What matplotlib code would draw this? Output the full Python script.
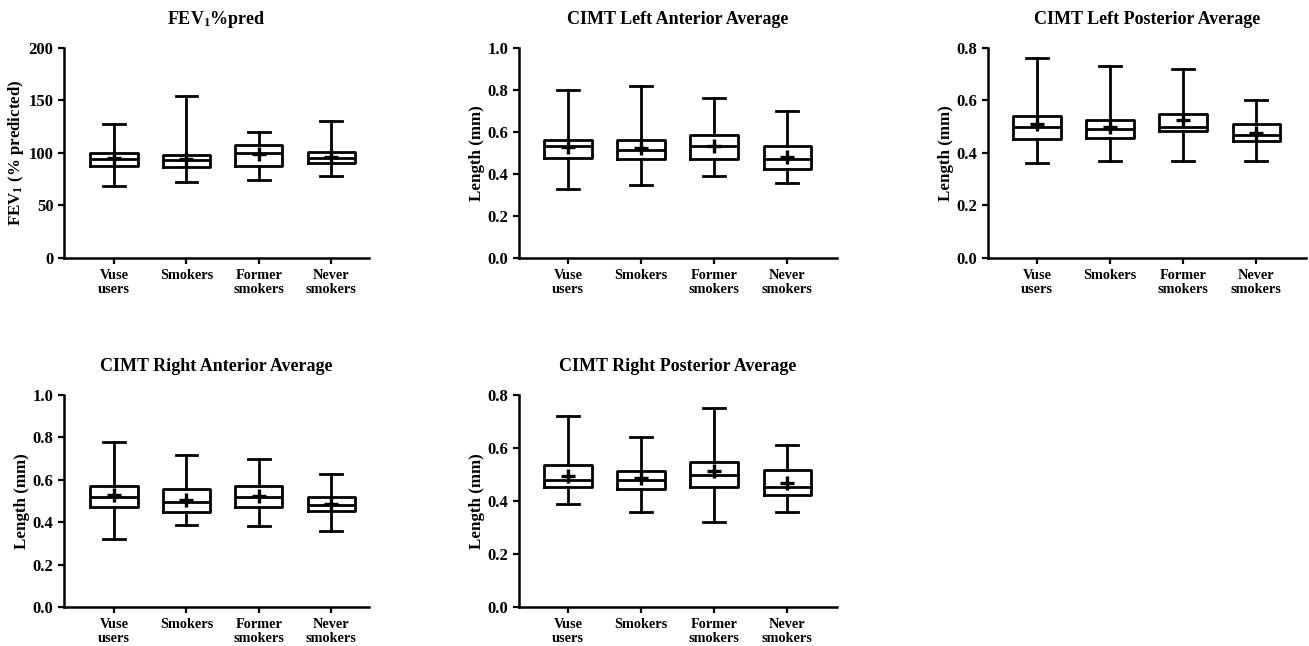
import matplotlib
matplotlib.use("Agg")
import matplotlib.pyplot as plt
from matplotlib.ticker import FormatStrFormatter

plt.rcParams['font.family'] = ['Liberation Serif', 'DejaVu Serif']
plt.rcParams['font.weight'] = 'bold'
plt.rcParams['mathtext.fontset'] = 'custom'
plt.rcParams['mathtext.rm'] = 'Liberation Serif:bold'
plt.rcParams['mathtext.bf'] = 'Liberation Serif:bold'
plt.rcParams['mathtext.default'] = 'bf'

groups = ["Vuse\nusers", "Smokers", "Former\nsmokers", "Never\nsmokers"]

# per panel: whisker low, q1, median, q3, whisker high, mean (one entry per group)
fev_low = [68.7, 72.2, 74.7, 77.8]
fev_q1 = [87.7, 86.7, 87.7, 90.5]
fev_med = [94.0, 93.0, 99.7, 95.3]
fev_q3 = [99.7, 97.8, 107.6, 101.0]
fev_high = [127.5, 154.4, 119.6, 130.0]
fev_mean = [95.0, 94.0, 98.7, 96.5]

la_low = [0.33, 0.348, 0.389, 0.359]
la_q1 = [0.475, 0.472, 0.473, 0.422]
la_med = [0.533, 0.514, 0.533, 0.470]
la_q3 = [0.560, 0.563, 0.584, 0.532]
la_high = [0.80, 0.82, 0.76, 0.70]
la_mean = [0.530, 0.524, 0.535, 0.483]

lp_low = [0.36, 0.37, 0.37, 0.37]
lp_q1 = [0.452, 0.456, 0.482, 0.444]
lp_med = [0.500, 0.490, 0.499, 0.470]
lp_q3 = [0.540, 0.525, 0.547, 0.510]
lp_high = [0.76, 0.73, 0.72, 0.60]
lp_mean = [0.510, 0.499, 0.525, 0.478]

ra_low = [0.32, 0.389, 0.38, 0.359]
ra_q1 = [0.474, 0.446, 0.474, 0.454]
ra_med = [0.520, 0.494, 0.521, 0.480]
ra_q3 = [0.569, 0.557, 0.572, 0.520]
ra_high = [0.778, 0.718, 0.70, 0.628]
ra_mean = [0.526, 0.505, 0.522, 0.485]

rp_low = [0.39, 0.36, 0.32, 0.36]
rp_q1 = [0.453, 0.447, 0.454, 0.423]
rp_med = [0.480, 0.480, 0.500, 0.452]
rp_q3 = [0.537, 0.515, 0.547, 0.516]
rp_high = [0.72, 0.64, 0.75, 0.61]
rp_mean = [0.495, 0.486, 0.514, 0.468]

panels = [
    ("FEV$_1$%pred", "FEV$_1$ (% predicted)", (0, 200), [0, 50, 100, 150, 200],
     fev_low, fev_q1, fev_med, fev_q3, fev_high, fev_mean),
    ("CIMT Left Anterior Average", "Length (mm)", (0, 1.0), [0, 0.2, 0.4, 0.6, 0.8, 1.0],
     la_low, la_q1, la_med, la_q3, la_high, la_mean),
    ("CIMT Left Posterior Average", "Length (mm)", (0, 0.8), [0, 0.2, 0.4, 0.6, 0.8],
     lp_low, lp_q1, lp_med, lp_q3, lp_high, lp_mean),
    ("CIMT Right Anterior Average", "Length (mm)", (0, 1.0), [0, 0.2, 0.4, 0.6, 0.8, 1.0],
     ra_low, ra_q1, ra_med, ra_q3, ra_high, ra_mean),
    ("CIMT Right Posterior Average", "Length (mm)", (0, 0.8), [0, 0.2, 0.4, 0.6, 0.8],
     rp_low, rp_q1, rp_med, rp_q3, rp_high, rp_mean),
]

W, H = 1309, 646
fig = plt.figure(figsize=(W / 100, H / 100), dpi=100)

# axes boxes in pixels: left, right, top, bottom
boxes = [(64, 369, 48, 258), (519, 837, 48, 258), (988, 1306, 48, 258),
         (64, 369, 395, 607), (519, 837, 395, 607)]
xlims = [(0.31, 4.52), (0.33, 4.68), (0.33, 4.68), (0.31, 4.52), (0.33, 4.68)]

for (title, ylab, ylim, yt, lo, q1, med, q3, hi, mn), (l, r, t, b), xl in zip(panels, boxes, xlims):
    ax = fig.add_axes([l / W, (H - b) / H, (r - l) / W, (b - t) / H])
    stats = []
    for i in range(len(groups)):
        stats.append(dict(whislo=lo[i], q1=q1[i], med=med[i], q3=q3[i], whishi=hi[i],
                          mean=mn[i], fliers=[]))
    ax.bxp(stats, positions=range(1, 5), widths=0.65, showmeans=True,
           boxprops=dict(color='black', linewidth=2),
           medianprops=dict(color='black', linewidth=2),
           whiskerprops=dict(color='black', linewidth=2),
           capprops=dict(color='black', linewidth=2),
           capwidths=0.3,
           meanprops=dict(marker='+', markersize=10, markeredgewidth=2.4,
                          markeredgecolor='black'))
    ax.set_xlim(*xl)
    ax.set_ylim(*ylim)
    ax.set_yticks(yt)
    if ylim[1] < 10:
        ax.yaxis.set_major_formatter(FormatStrFormatter('%.1f'))
    ax.set_xticks(range(1, 5))
    ax.set_xticklabels(groups, fontsize=10.3, fontweight='bold', linespacing=1.1)
    ax.tick_params(axis='y', labelsize=12, width=1.6, length=4)
    ax.tick_params(axis='x', width=1.6, length=4, pad=4)
    for s in ['top', 'right']:
        ax.spines[s].set_visible(False)
    for s in ['left', 'bottom']:
        ax.spines[s].set_linewidth(1.8)
    ax.set_ylabel(ylab, fontsize=12.2, fontweight='bold', labelpad=2)
    ax.set_title(title, fontsize=13, fontweight='bold', pad=17)

fig.savefig("out.png", dpi=100)
